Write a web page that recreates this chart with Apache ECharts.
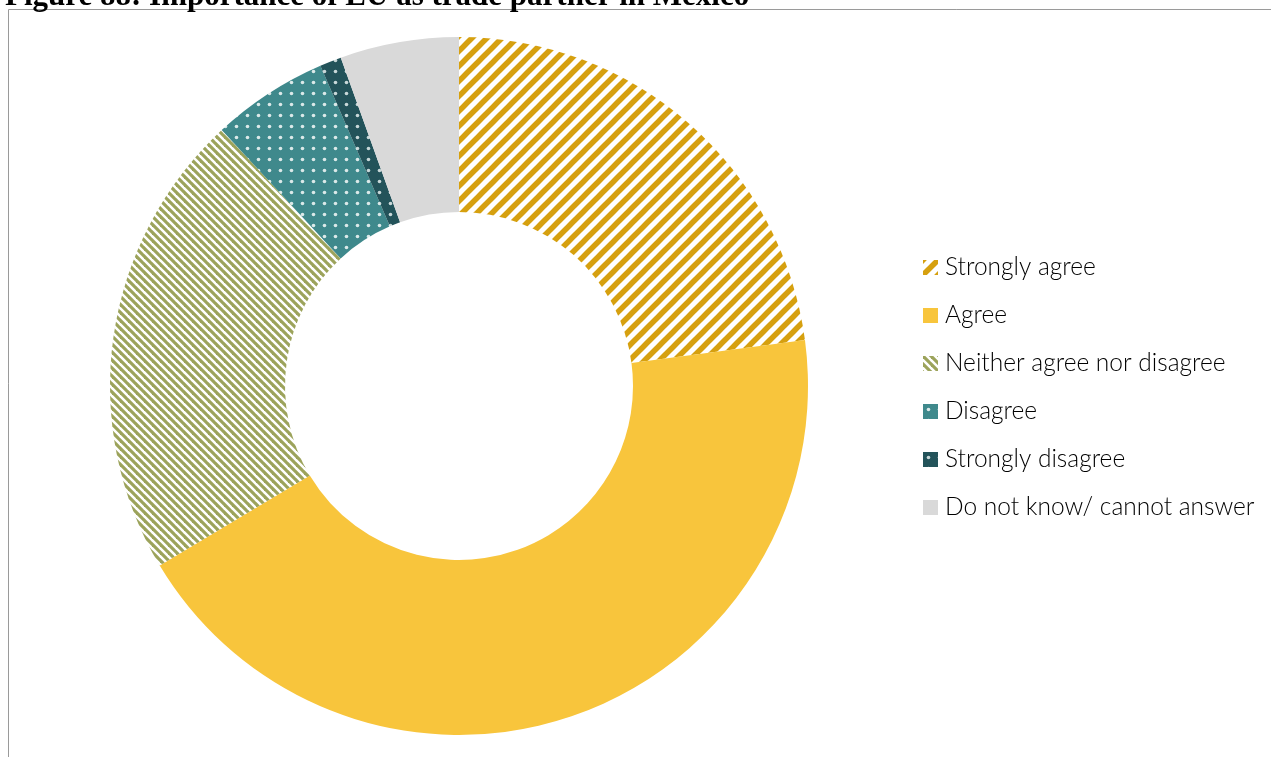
<!DOCTYPE html>
<html><head><meta charset="utf-8">
<script src="https://cdn.jsdelivr.net/npm/echarts@6/dist/echarts.min.js"></script>
<style>html,body{margin:0;padding:0;background:#fff}#c{width:1271px;height:757px}</style>
</head><body><div id="c"></div>
<script>
const titleText = 'Figure 88: Importance of EU as trade partner in Mexico';
const categories = ['Strongly agree','Agree','Neither agree nor disagree','Disagree','Strongly disagree','Do not know/ cannot answer'];
const values = [22.9, 43.5, 21.7, 5.4, 1.0, 5.5];

function stripes(size, width, fg, bg, dir){
  const c = document.createElement('canvas'); c.width = size; c.height = size;
  const g = c.getContext('2d');
  g.fillStyle = bg; g.fillRect(0,0,size,size);
  g.strokeStyle = fg; g.lineWidth = width; g.lineCap = 'square';
  for (let k=-1;k<=1;k++){
    g.beginPath();
    if (dir === 'up'){ g.moveTo(k*size, size); g.lineTo(k*size+size, 0); }
    else { g.moveTo(k*size, 0); g.lineTo(k*size+size, size); }
    g.stroke();
  }
  return c;
}
function dots(size, r, fg, bg){
  const c = document.createElement('canvas'); c.width = size; c.height = size;
  const g = c.getContext('2d');
  g.fillStyle = bg; g.fillRect(0,0,size,size);
  g.fillStyle = fg; g.beginPath(); g.arc(size/2, size/2, r, 0, Math.PI*2); g.fill();
  return c;
}
const fills = [
  {image: stripes(15, 5.5, '#D6A00F', '#ffffff', 'up'), repeat: 'repeat'},
  '#F8C53C',
  {image: stripes(8, 3.2, '#9CA35B', '#ffffff', 'down'), repeat: 'repeat'},
  {image: dots(11, 1.8, '#DCE9E9', '#3F898C'), repeat: 'repeat'},
  {image: dots(11, 1.8, '#C9D8D9', '#23535A'), repeat: 'repeat'},
  '#D9D9D9'
];

const chart = echarts.init(document.getElementById('c'), null, {renderer:'canvas'});
chart.setOption({
  animation: false,
  backgroundColor: '#fff',
  title: {
    text: titleText, left: 0, top: -24,
    textStyle: {fontFamily: 'Liberation Serif', fontWeight: 'bold', fontSize: 31, color: '#000'}
  },
  graphic: [{
    type: 'rect', silent: true, z: -1,
    shape: {x: 8.5, y: 9.5, width: 1400, height: 900},
    style: {fill: 'none', stroke: '#9A9A9A', lineWidth: 1}
  }],
  legend: {
    orient: 'vertical', left: 918, top: 250,
    itemWidth: 15, itemHeight: 15, itemGap: 23,
    icon: 'rect',
    textStyle: {fontFamily: 'Lato', fontWeight: 300, fontSize: 24.5, lineHeight: 24, color: '#000', padding: [0,0,0,2]},
    data: categories
  },
  series: [{
    type: 'pie',
    center: [459, 386],
    radius: [174, 349],
    startAngle: 90,
    clockwise: true,
    label: {show: false},
    labelLine: {show: false},
    emphasis: {disabled: true},
    data: categories.map((n,i)=>({name: n, value: values[i], itemStyle: {color: fills[i]}}))
  }]
});
</script></body></html>
